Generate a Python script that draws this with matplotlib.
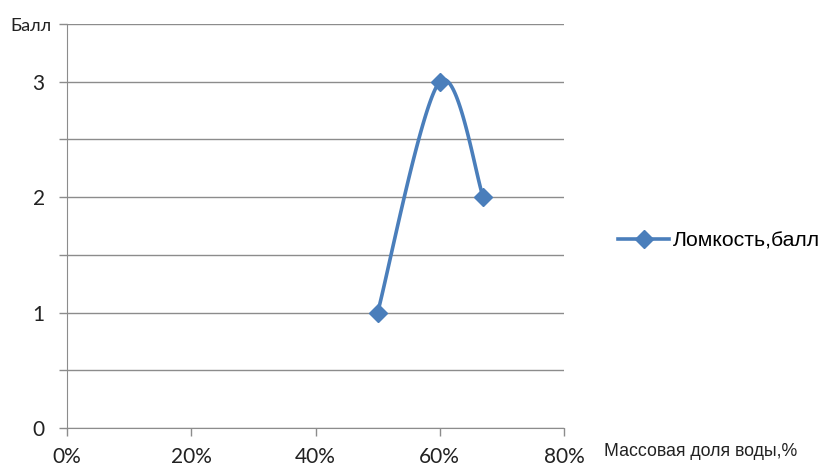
import numpy as np
import matplotlib
matplotlib.use("Agg")
import matplotlib.pyplot as plt
import matplotlib.transforms as mtransforms

# water mass fraction vs brittleness score
water = [0.50, 0.60, 0.67]
score = [1, 3, 2]
x_ticks = [0, 0.2, 0.4, 0.6, 0.8]
x_labels = ["0%", "20%", "40%", "60%", "80%"]
y_ticks = [0, 0.5, 1, 1.5, 2, 2.5, 3, 3.5]
y_labels = ["0", "", "1", "", "2", "", "3", "Балл"]
series_name = "Ломкость,балл"

W, H = 824, 467
blue = "#4a7ebb"
grey = "#8c8c8c"

fig = plt.figure(figsize=(W / 100, H / 100), dpi=100)
ax = fig.add_axes([67 / W, 1 - 428 / H, (564 - 67) / W, (428 - 24) / H])
ax.set_xlim(0, 0.8)
ax.set_ylim(0, 3.5)


def smooth_curve(xs, ys, n=60):
    # bezier smoothing done in screen space, endpoints mirror themselves
    pts = ax.transData.transform(np.column_stack([xs, ys]))
    out = []
    for i in range(len(pts) - 1):
        p0 = pts[max(i - 1, 0)]
        p1 = pts[i]
        p2 = pts[i + 1]
        p3 = pts[min(i + 2, len(pts) - 1)]
        c1 = p1 + (p2 - p0) / 6
        c2 = p2 - (p3 - p1) / 6
        t = np.linspace(0, 1, n)[:, None]
        seg = ((1 - t) ** 3) * p1 + 3 * t * (1 - t) ** 2 * c1 \
            + 3 * t ** 2 * (1 - t) * c2 + t ** 3 * p2
        out.append(seg)
    pix = np.vstack(out)
    return ax.transData.inverted().transform(pix).T


sx, sy = smooth_curve(water, score)
ax.plot(sx, sy, color=blue, lw=2.6, solid_capstyle="round", zorder=3)
ax.plot(water, score, ls="none", marker="D", ms=9, color=blue, zorder=4)

ax.set_yticks(y_ticks)
ax.set_yticklabels(y_labels)
ax.set_xticks(x_ticks)
ax.set_xticklabels(x_labels)
ax.grid(axis="y", color=grey, lw=1)
ax.set_axisbelow(True)
for s in ["top", "right"]:
    ax.spines[s].set_visible(False)
for s in ["left", "bottom"]:
    ax.spines[s].set_color(grey)
ax.tick_params(axis="both", colors=grey, length=6, width=1)
ax.tick_params(axis="y", pad=10)
ax.tick_params(axis="x", pad=8)
for lbl in ax.get_xticklabels() + ax.get_yticklabels():
    lbl.set_color("#222222")
    lbl.set_fontfamily("Lato")
    lbl.set_fontsize(15)

# axis title sits in the top tick slot, a little closer to the axis
top_lbl = ax.get_yticklabels()[-1]
top_lbl.set_fontsize(13)
top_lbl.set_transform(top_lbl.get_transform() +
                      mtransforms.ScaledTranslation(7 / 100, 0, fig.dpi_scale_trans))

fig.text(604 / W, 1 - 452 / H, "Массовая доля воды,%", fontsize=12.8,
         family="Liberation Sans", color="#222222", va="center", ha="left")

handle, = ax.plot([], [], color=blue, lw=2.6, marker="D", ms=9)
fig.legend([handle], [series_name], loc="center left",
           bbox_to_anchor=(618 / W, 1 - 241 / H), frameon=False,
           borderaxespad=0, borderpad=0, handlelength=2.4, handletextpad=0.2,
           numpoints=1, prop={"family": "Liberation Sans", "size": 15.3})

fig.savefig("out.png", dpi=100)
